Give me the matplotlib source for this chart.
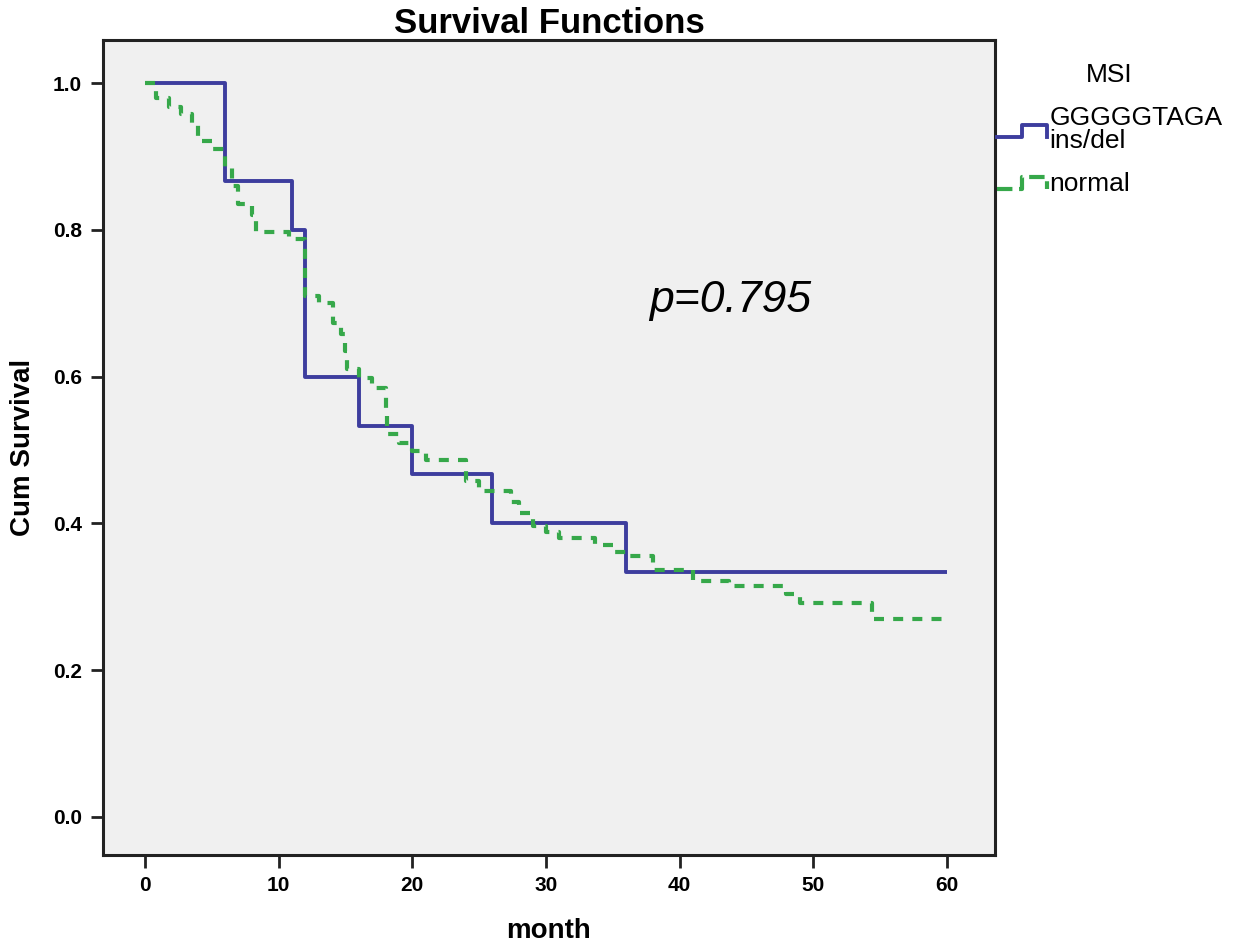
import matplotlib
matplotlib.use("Agg")
import matplotlib.pyplot as plt
from matplotlib.lines import Line2D
from matplotlib.legend_handler import HandlerBase

plt.rcParams['font.family'] = ['Liberation Sans', 'DejaVu Sans']

# Kaplan-Meier steps (month, cumulative survival)
ins_del_months = [0, 6, 11, 12, 16, 20, 26, 36, 60]
ins_del_surv = [1.0, 0.867, 0.8, 0.6, 0.533, 0.467, 0.4, 0.333, 0.333]

normal_months = [0, 0.8, 1.8, 2.7, 3.5, 4.0, 5.0, 6.0, 6.5, 7.0, 8.0, 8.3, 10.8,
                 12.0, 13.0, 14.1, 14.7, 15.0, 15.1, 16.0, 17.0, 18.0, 18.1,
                 19.0, 20.0, 21.0, 24.0, 25.0, 27.4, 28.0, 29.0, 30.0, 31.0,
                 33.7, 35.0, 36.0, 38.0, 41.0, 43.7, 48.0, 49.0, 54.4, 60.0]
normal_surv = [1.0, 0.98, 0.967, 0.958, 0.946, 0.921, 0.91, 0.885, 0.86, 0.835,
               0.82, 0.797, 0.787, 0.71, 0.70, 0.673, 0.658, 0.635, 0.61, 0.598,
               0.585, 0.55, 0.522, 0.509, 0.499, 0.486, 0.458, 0.444, 0.429,
               0.414, 0.397, 0.388, 0.38, 0.37, 0.361, 0.356, 0.336, 0.322,
               0.314, 0.303, 0.292, 0.27, 0.27]

x_ticks = [0, 10, 20, 30, 40, 50, 60]
y_ticks = [0.0, 0.2, 0.4, 0.6, 0.8, 1.0]

group_labels = ["GGGGGTAGA\nins/del", "normal"]
p_text = "p=0.795"

blue = "#3d3d9e"
green = "#36a84a"


class StepHandler(HandlerBase):
    # small step shape like the SPSS legend sample
    def create_artists(self, legend, orig_handle, xdescent, ydescent,
                       width, height, fontsize, trans):
        x0 = -xdescent
        y_lo = -ydescent + height * 0.1
        y_hi = -ydescent + height * 0.75
        xs = [x0, x0 + width * 0.5, x0 + width * 0.5, x0 + width, x0 + width]
        ys = [y_lo, y_lo, y_hi, y_hi, y_lo]
        line = Line2D(xs, ys, color=orig_handle.get_color(),
                      linewidth=orig_handle.get_linewidth(),
                      linestyle=orig_handle.get_linestyle())
        line.set_transform(trans)
        return [line]


fig = plt.figure(figsize=(12.45, 9.48), dpi=100)
ax = fig.add_axes([0.0827, 0.0981, 0.7165, 0.8597])
ax.set_facecolor("#f0f0f0")

l1, = ax.plot(ins_del_months, ins_del_surv, drawstyle="steps-post",
              color=blue, linewidth=2.8, solid_capstyle="butt")
l2, = ax.plot(normal_months, normal_surv, drawstyle="steps-post",
              color=green, linewidth=3.0, dashes=(2.4, 2.2))

ax.set_xlim(-3.14, 63.6)
ax.set_ylim(-0.052, 1.0586)
ax.set_xticks(x_ticks)
ax.set_yticks(y_ticks)
ax.set_yticklabels([f"{v:.1f}" for v in y_ticks])

for spine in ax.spines.values():
    spine.set_linewidth(2.2)
    spine.set_color("#222222")
ax.tick_params(direction="out", length=9, width=2, color="#222222",
               labelsize=15, pad=6)
for lab in ax.get_xticklabels() + ax.get_yticklabels():
    lab.set_fontweight("bold")

ax.set_xlabel("month", fontsize=20, fontweight="bold", labelpad=17)
ax.set_ylabel("Cum Survival", fontsize=20, fontweight="bold", labelpad=12)
ax.set_title("Survival Functions", fontsize=25, fontweight="bold", pad=5)

ax.text(43.8, 0.704, p_text, fontsize=32, fontstyle="italic",
        ha="center", va="center")

leg = ax.legend([l1, l2], group_labels, title="MSI",
                handler_map={Line2D: StepHandler()},
                loc="upper left", bbox_to_anchor=(0.99, 0.985),
                frameon=False, fontsize=19, title_fontsize=19,
                handlelength=1.9, handletextpad=0.1, labelspacing=0.72,
                borderaxespad=0)
for t in leg.get_texts():
    t.set_linespacing(0.95)

fig.savefig("out.png", dpi=100)
